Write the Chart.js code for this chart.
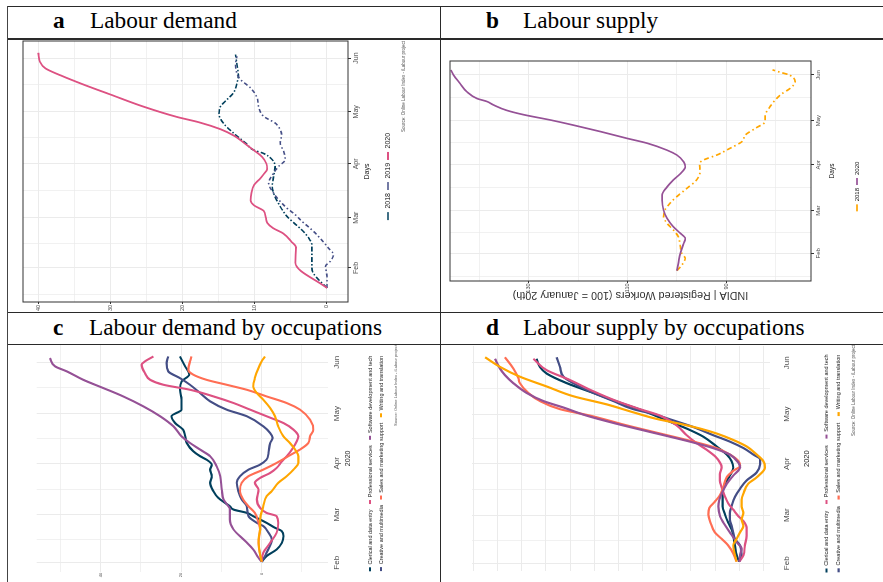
<!DOCTYPE html>
<html lang="en">
<head>
<meta charset="utf-8">
<title>Online labour demand and supply, 2020</title>
<script src="https://cdn.jsdelivr.net/npm/chart.js@4.4.1/dist/chart.umd.min.js"></script>
<style>
  html, body { margin: 0; padding: 0; background: #fff; }
  body { position: relative; width: 883px; height: 582px; overflow: hidden; }
  .rule { position: absolute; background: #2a2a2a; z-index: 3; }
  .head { position: absolute; z-index: 3; font-family: "Liberation Serif", "Times New Roman", serif;
          font-size: 23.3px; line-height: 23.3px; color: #000; white-space: nowrap; }
  .head.tag { font-weight: bold; }
  .plot { position: absolute; transform-origin: 0 0; transform: rotate(-90deg); }
  .plot canvas { display: block; }
</style>
</head>
<body>
<!-- table rules -->
<div class="rule" style="left:7px;top:6px;width:876px;height:1px"></div>
<div class="rule" style="left:7px;top:38px;width:876px;height:1.5px"></div>
<div class="rule" style="left:7px;top:312px;width:876px;height:1px"></div>
<div class="rule" style="left:7px;top:344px;width:876px;height:1px"></div>
<div class="rule" style="left:6.5px;top:6px;width:1.6px;height:576px;background:#444"></div>
<div class="rule" style="left:439.5px;top:6px;width:1.3px;height:576px"></div>

<!-- panel headings -->
<div class="head tag" style="left:53px;top:8.8px">a</div>
<div class="head" style="left:90px;top:8.8px">Labour demand</div>
<div class="head tag" style="left:486px;top:8.8px">b</div>
<div class="head" style="left:523px;top:8.8px">Labour supply</div>
<div class="head tag" style="left:53px;top:315.5px">c</div>
<div class="head" style="left:89px;top:315.5px">Labour demand by occupations</div>
<div class="head tag" style="left:486px;top:315.5px">d</div>
<div class="head" style="left:523px;top:315.5px">Labour supply by occupations</div>

<!-- each plot is laid out with dates along x, then turned a quarter turn -->
<div class="plot" style="left:10px;top:312px;width:272px;height:420px"><canvas id="demand"></canvas></div>
<div class="plot" style="left:443px;top:312px;width:272px;height:437px"><canvas id="supply"></canvas></div>
<div class="plot" style="left:10px;top:582px;width:237px;height:420px"><canvas id="demandOcc"></canvas></div>
<div class="plot" style="left:443px;top:582px;width:237px;height:437px"><canvas id="supplyOcc"></canvas></div>

<script>
// ---- calendar (day of year, 2020) ----
const MONTH_TICKS = [32, 61, 92, 122, 153];
const MONTH_NAMES = ['Feb', 'Mar', 'Apr', 'May', 'Jun'];
const MID_MONTH_TICKS = [16.5, 46, 76.5, 107, 137.5];

// ---- a: labour demand ----
const demandDays2018 = [20.5, 29, 33, 40.6, 45.4, 49, 54, 58, 62, 67.5, 75, 79, 85, 90.6, 94.4, 98, 100, 104, 109.8, 115.5, 121, 125, 129, 132.8, 138.6, 143, 149, 155];
const demand2018 = [0, 1.9, 2.1, 2.1, 2.1, 2.5, 3.5, 4.6, 5.6, 6.5, 7.4, 7.6, 7.4, 7.2, 7.6, 8.8, 10.2, 11.3, 13, 14.4, 15, 14.8, 13.9, 13, 12.5, 12.3, 12.5, 12.7];
const demandDays2019 = [20.5, 27, 33, 36, 39.7, 43.5, 48, 54, 59, 62.7, 66.6, 70.4, 75, 81, 86.7, 90.6, 94.4, 99, 104, 108.8, 111.7, 115.5, 119.4, 125, 130, 135.7, 140.5, 144, 149, 154];
const demand2019 = [0, 0, 0.2, -0.5, -0.9, -0.2, 0.7, 2.1, 3.5, 4.4, 5.6, 6.5, 7.4, 8.1, 7.4, 6.7, 5.8, 6, 6.5, 6.3, 6.5, 7.2, 8.8, 9.5, 9.7, 10.6, 12, 12.5, 12.7, 12.5];
const demandDays2020 = [20.5, 35, 44, 47, 52, 55, 58, 61, 65, 68, 71, 75, 80, 83, 86, 89, 92, 96, 100, 104, 108, 112, 116, 119, 125, 132, 138, 143, 147, 151, 156];
const demand2020 = [0, 4.4, 4.3, 4.9, 6.1, 7.5, 8.3, 8.5, 8.8, 10.1, 10.6, 10.5, 10.1, 9.4, 8.8, 8.3, 8.4, 9.0, 10.2, 11.5, 12.8, 14.8, 17.8, 20.8, 25.5, 30.1, 34, 37, 39.1, 39.9, 40.1];
const demandTicks = [0, 5, 10, 15, 20, 25, 30, 35, 40];
const demandTickLabels = { 0: '0', 10: '10', 20: '20', 30: '30', 40: '40' };

// ---- b: labour supply (100 = January 20th) ----
const supplyDays2018 = [20.2, 24, 28.6, 32, 36.5, 43.3, 47.8, 52.4, 56.9, 61.4, 65.9, 70.5, 76, 81.8, 87.4, 93, 95.3, 98.7, 103.3, 107.8, 112.3, 116.8, 121.4, 124.8, 131.5, 139.5, 144, 148.5, 153, 155, 156.5];
const supply2018 = [100, 99, 98.3, 99, 99.3, 99.7, 100.7, 102, 102.7, 102.4, 101.4, 100, 98, 96, 95.3, 95.4, 94.6, 91.9, 89.2, 86.8, 86.1, 84.1, 82.1, 82.1, 81.1, 79, 77, 76, 77.2, 79.2, 80.6];
const supplyDays2020 = [20.2, 25.2, 32, 38.8, 42, 45.6, 50, 55.8, 61.4, 68, 71.6, 77, 81.8, 86, 90.8, 94, 98.7, 102, 106.7, 110, 114.6, 119, 122.5, 126, 129, 132.7, 135, 137, 141.7, 147.4, 153, 156.4];
const supply2020 = [100, 99.7, 99.3, 98.6, 98.3, 99.3, 100.7, 102, 102.7, 103, 103, 102, 100.7, 99.3, 98.3, 98.6, 100, 102, 106, 110.1, 115.5, 121, 125.7, 131, 134.5, 137.2, 138.5, 140.5, 142.6, 144, 145.3, 145.8];
const supplyTicks = [80, 90, 100, 110, 120, 130, 140];
const supplyTickLabels = { 90: '90', 110: '110', 130: '130' };

// ---- occupations ----
const OCCUPATIONS = ['Clerical and data entry', 'Creative and multimedia', 'Professional services',
                     'Sales and marketing support', 'Software development and tech', 'Writing and translation'];
const OCC_COLORS = ['#003f5c', '#444e86', '#dd5182', '#ff6e54', '#955196', '#ffa600'];
const OCC_LEGEND_RANK = [0, 3, 1, 4, 2, 5];

// c: labour demand by occupation
const demandOccDays = [
  [32.6, 36, 40, 44, 48.1, 51.1, 53.1, 56.1, 60.1, 62.1, 64.1, 66.1, 68.1, 71.2, 75.2, 80.2, 84.2, 88.2, 91.2, 94.2, 96.3, 99.3, 104.3, 108.3, 112.3, 116.3, 120.4, 124.4, 130.4, 136.4, 141.4, 145.5, 150.5, 156.5],
  [32.6, 38, 46.1, 50.1, 54.1, 56.1, 60.1, 66.1, 70.2, 75.2, 80.2, 84.2, 88.2, 91.2, 94.2, 98.3, 104.3, 107.3, 110.3, 114.3, 120.4, 124.4, 129.4, 134.4, 139.4, 143.4, 147.5, 152.5, 156.5],
  [32.6, 38, 44, 50.1, 56.1, 60.1, 62.1, 65.1, 70.2, 76.2, 80.2, 83.2, 86.2, 89.2, 93.2, 96.3, 100.3, 105.3, 108.3, 112.3, 116.3, 120.4, 124.4, 128.4, 132.4, 136.4, 139.4, 142.4, 146.5, 151.5, 153.5, 156.5],
  [32.6, 37, 44, 52.1, 56.1, 62.1, 66.1, 70.2, 75.2, 80.2, 84.2, 88.2, 92.2, 96.3, 100.3, 104.3, 108.3, 112.3, 118.3, 124.4, 128.4, 132.4, 136.4, 139.4, 142.4, 145.5, 148.5, 153.5, 156.5],
  [32.6, 35, 40, 45.1, 52.1, 58.1, 64.1, 70.2, 76.2, 84.2, 90.2, 96.3, 100.3, 104.3, 108.3, 114.3, 120.4, 126.4, 132.4, 137.4, 142.4, 147.5, 150.5, 155.5],
  [32.6, 40, 46.1, 52.1, 58.1, 66.1, 72.2, 75.2, 80.2, 84.2, 88.2, 92.2, 96.3, 100.3, 104.3, 108.3, 114.3, 120.4, 125.4, 130.4, 134.4, 138.4, 143.4, 149.5, 153.5, 156.5]
];
const demandOccValues = [
  [0, -1.2, -3.7, -5.0, -5.4, -5.0, -3.3, -1.2, 2.1, 3.7, 7.0, 7.9, 9.1, 10.8, 12.0, 12.8, 12.4, 12.8, 12.4, 13.7, 15.3, 17.0, 18.6, 19.0, 19.5, 21.5, 22.4, 19.9, 19.9, 20.3, 19.9, 18.0, 19.0, 20.3],
  [0, -1.2, -2.5, -1.7, -0.4, 1.2, 3.3, 3.7, 5.0, 5.8, 6.2, 5.4, 3.3, 0.4, -1.2, -1.7, -2.1, -2.7, -2.1, -0.4, 3.7, 8.7, 12.8, 15.3, 17.8, 20.3, 23.2, 23.6, 23.2],
  [0, -0.4, -2.1, -3.7, -4.1, -3.7, -1.2, 0.4, 1.2, 0.8, 1.7, 0.4, -2.1, -3.7, -5.0, -6.2, -7.5, -8.7, -9.1, -7.9, -5.4, -1.2, 2.9, 7.0, 12.0, 17.8, 24.4, 27.7, 29.0, 29.8, 29.0, 26.9],
  [0, 0.4, 0.8, 0.4, 0.8, 1.7, 3.3, 4.6, 5.4, 5.0, 3.3, -0.4, -3.7, -6.6, -9.5, -11.6, -12.0, -12.8, -12.0, -9.5, -6.2, -1.2, 3.7, 8.7, 13.7, 17.0, 18.2, 17.8, 17.4],
  [0, 0.8, 2.1, 4.1, 7.0, 7.9, 7.9, 9.5, 9.9, 10.3, 11.2, 12.8, 15.3, 17.8, 19.9, 21.9, 25.2, 29.4, 34.4, 39.3, 44.3, 48.4, 51.3, 52.6],
  [0, 0.6, 0.8, 0.4, 0.4, -0.4, -1.2, -2.5, -4.1, -6.2, -7.9, -9.1, -9.1, -8.3, -7.0, -5.4, -4.1, -3.3, -2.1, -0.4, 1.2, 2.1, 1.7, 0.8, 0, -0.8]
];
const demandOccTicks = [-10, 0, 10, 20, 30, 40, 50];
const demandOccTickLabels = { 0: '0', 20: '20', 40: '40' };

// d: labour supply by occupation
const supplyOccDays = [
  [33, 36.9, 42.8, 48.6, 52.6, 56.5, 61.4, 66.3, 70.2, 74.1, 80, 84.9, 89.8, 93.7, 97.6, 102.5, 108.4, 113.3, 118.2, 124, 128.9, 134.8, 140.7, 146.5, 150.5, 155.4],
  [33, 36.9, 42.8, 46.7, 50.6, 54.5, 58.4, 62.4, 66.3, 72.1, 77, 81.9, 86.8, 91.7, 94.7, 97.6, 101.5, 105.4, 109.3, 114.2, 118.2, 122.1, 125, 129.9, 134.8, 140.7, 144.6, 150.5, 156.3],
  [33, 36.9, 42.8, 48.6, 53.5, 57.5, 60.4, 64.3, 68.2, 72.1, 78, 81.9, 85.8, 89.8, 92.7, 96.6, 100.5, 104.5, 109.3, 115.2, 121.1, 125, 129.9, 135.8, 142.6, 148.5, 155.4],
  [33, 37.9, 42.8, 46.7, 50.6, 56.5, 61.4, 65.3, 69.2, 73.1, 78, 83.9, 87.8, 90.7, 93.7, 97.6, 101.5, 105.4, 110.3, 115.2, 121.1, 125, 129.9, 134.8, 140.7, 143.6, 149.5, 156.3],
  [33, 36.9, 40.8, 44.7, 50.6, 56.5, 60.4, 66.3, 70.2, 74.1, 80, 84.9, 89.8, 92.7, 97.6, 101.5, 105.4, 110.3, 116.2, 121.1, 126, 129.9, 134.8, 140.7, 145.6, 149.5, 155.4],
  [33, 36.9, 42.8, 46.7, 50.6, 54.5, 58.4, 62.4, 66.3, 70.2, 74.1, 80, 83.9, 89.8, 93.7, 97.6, 102.5, 106.4, 110.3, 113.3, 116.2, 119.1, 123.1, 127.9, 132.8, 138.7, 144.6, 150.5, 156.3]
];
const supplyOccValues = [
  [0, 1.1, 1.8, 2.5, 3.2, 4.6, 5.9, 6.9, 6.9, 6.9, 5.9, 3.9, 2.5, 3.2, 5.2, 9.4, 14.9, 21.8, 30.1, 39.7, 49.4, 60.4, 71.4, 79.7, 82.5, 83.9],
  [0, -1.0, -0.3, 1.8, 2.5, 3.2, 3.9, 3.9, 3.2, 1.8, -0.3, -3.0, -7.2, -8.6, -8.6, -5.8, -1.7, 3.9, 10.8, 19.0, 27.3, 35.6, 43.9, 52.1, 60.4, 68.7, 72.8, 74.2, 75.6],
  [0, -1.7, -2.3, -3.0, -3.0, -1.7, 0.4, 2.5, 4.6, 5.9, 7.3, 8.0, 8.0, 7.3, 8.0, 10.1, 13.5, 17.7, 21.8, 25.9, 32.8, 41.1, 50.8, 60.4, 70.1, 79.7, 85.2],
  [1.1, 2.5, 4.6, 7.3, 10.1, 11.9, 12.8, 12.4, 10.1, 8.0, 6.6, 5.2, 2.5, -0.3, 0.4, 3.9, 9.4, 19.0, 32.8, 46.6, 61.8, 74.2, 82.5, 87.3, 90.8, 91.4, 93.5, 97.0],
  [0, -0.3, -1.0, 1.1, 3.9, 6.6, 8.0, 8.7, 8.3, 7.3, 5.2, 2.5, -0.3, 0.4, 3.9, 10.8, 20.4, 34.2, 50.8, 63.2, 72.8, 81.1, 88.0, 93.5, 97.0, 99.0, 101.1],
  [1.1, 1.8, 2.5, 1.1, -0.3, -1.7, -1.0, -1.7, -1.0, -1.0, -1.7, -3.7, -7.2, -10.6, -9.9, -7.2, -3.0, 2.5, 9.4, 16.3, 24.6, 34.2, 43.9, 54.9, 68.7, 79.7, 90.8, 99.0, 105.2]
];
const supplyOccTicks = [-10, 0, 10, 20, 30, 40, 50, 60, 70, 80, 90, 100, 110];

const CAPTION = 'Source: Online Labour Index - iLabour project';

// ---- drawing ----
Chart.defaults.font.family = "'Liberation Sans', Arial, sans-serif";
const TEXT_GREY = '#4d4d4d';
const GRID = '#ebebeb';
const CLEAR = 'rgba(0,0,0,0)';
const isMonth = v => MONTH_TICKS.includes(v);

function line(label, days, values, color, width, dash, order) {
  return {
    label, order,
    data: days.map((d, i) => ({ x: d, y: values[i] })),
    borderColor: color, backgroundColor: color, borderWidth: width, borderDash: dash,
    pointRadius: 0, pointHoverRadius: 0, fill: false, cubicInterpolationMode: 'monotone'
  };
}

// panel border in the style of a bordered ggplot panel
const panelFrame = {
  id: 'panelFrame',
  afterDatasetsDraw(chart, args, opts) {
    if (!opts.show) return;
    const a = chart.chartArea, c = chart.ctx;
    c.save();
    c.strokeStyle = '#333';
    c.lineWidth = 1;
    c.strokeRect(a.left, a.top, a.right - a.left, a.bottom - a.top);
    c.restore();
  }
};

function makeChart(id, s) {
  const canvas = document.getElementById(id);
  canvas.width = s.W;
  canvas.height = s.H;
  const dateTicks = [...MONTH_TICKS, ...MID_MONTH_TICKS]
    .filter(v => v >= s.dateRange[0] && v <= s.dateRange[1]).sort((a, b) => a - b);
  const isMajorValue = v => s.valueMajors.includes(v);
  return new Chart(canvas, {
    type: 'line',
    data: { datasets: s.datasets },
    options: {
      responsive: false, animation: false, events: [],
      layout: { padding: s.padding },
      scales: {
        x: {
          type: 'linear', position: 'bottom', min: s.dateRange[0], max: s.dateRange[1],
          afterBuildTicks: sc => { sc.ticks = dateTicks.map(v => ({ value: v })); },
          afterFit: sc => { sc.height = s.xHeight; },
          ticks: {
            autoSkip: false, maxRotation: 0, minRotation: 0, padding: s.datePad,
            color: TEXT_GREY, font: { size: s.dateFont },
            callback: v => isMonth(v) ? MONTH_NAMES[MONTH_TICKS.indexOf(v)] : ''
          },
          grid: {
            color: GRID, lineWidth: c => isMonth(c.tick && c.tick.value) ? 1 : 0.7,
            drawTicks: s.tickLen > 0, tickLength: s.tickLen, tickWidth: 1,
            tickColor: c => isMonth(c.tick && c.tick.value) ? '#333' : CLEAR
          },
          border: { display: false },
          title: {
            display: true, text: s.xTitle, color: '#1a1a1a', font: { size: s.xTitleFont },
            padding: { top: 0, bottom: s.xTitlePad }
          }
        },
        y: {
          type: 'linear', position: 'left', min: s.valueRange[0], max: s.valueRange[1],
          afterBuildTicks: sc => { sc.ticks = s.valueTicks.map(v => ({ value: v })); },
          afterFit: sc => { sc.width = s.yWidth; },
          ticks: {
            display: s.valueFont > 0, padding: s.valuePad, color: TEXT_GREY,
            font: { size: Math.max(s.valueFont, 1) },
            callback: v => (s.valueLabels[v] !== undefined ? s.valueLabels[v] : '')
          },
          grid: {
            color: GRID, lineWidth: c => isMajorValue(c.tick && c.tick.value) ? 1 : 0.7,
            drawTicks: s.tickLen > 0, tickLength: 2, tickWidth: 1,
            tickColor: c => (s.valueLabels[c.tick && c.tick.value] !== undefined) ? '#333' : CLEAR
          },
          border: { display: false },
          title: s.yTitle ? {
            display: true, text: s.yTitle, color: '#333', font: { size: s.yTitleFont },
            padding: { top: s.yTitlePad, bottom: 0 }
          } : { display: false }
        }
      },
      plugins: {
        panelFrame: { show: s.frame },
        tooltip: { enabled: false },
        title: { display: false },
        legend: {
          display: true, position: 'bottom', align: 'center',
          labels: {
            color: '#1a1a1a', font: { size: s.legendFont }, padding: s.legendPad,
            usePointStyle: true, pointStyle: 'line', pointStyleWidth: s.keyWidth, boxHeight: s.legendFont,
            sort: (a, b) => s.legendRank[a.datasetIndex] - s.legendRank[b.datasetIndex]
          }
        },
        subtitle: s.caption ? {
          display: true, position: 'bottom', align: 'end', text: s.caption, color: '#555',
          font: { size: s.captionFont }, padding: { top: 0, bottom: 0 }
        } : { display: false }
      }
    },
    plugins: [panelFrame]
  });
}

// a
makeChart('demand', {
  W: 272, H: 420, padding: { left: 0, right: 1, top: 13, bottom: 23.1 },
  dateRange: [12.4, 162.8], valueRange: [-2.92, 42.22],
  valueTicks: demandTicks, valueLabels: demandTickLabels, valueMajors: [0, 10, 20, 30, 40],
  yWidth: 10, valueFont: 5.5, valuePad: 1,
  xHeight: 33.5, dateFont: 7, datePad: 1.3, tickLen: 3,
  xTitle: 'Days', xTitleFont: 7, xTitlePad: 10.3,
  legendFont: 7, legendPad: 3, keyWidth: 8, legendRank: [0, 1, 2],
  caption: CAPTION, captionFont: 4.5, frame: true,
  datasets: [
    line('2018', demandDays2018, demand2018, '#003f5c', 1.6, [5, 2, 1.5, 2], 3),
    line('2019', demandDays2019, demand2019, '#444e86', 1.6, [4, 2.5, 1.5, 2.5], 2),
    line('2020', demandDays2020, demand2020, '#dd5182', 1.8, [], 1)
  ]
});

// b
makeChart('supply', {
  W: 272, H: 437, padding: { left: 0, right: 21, top: 7, bottom: 10 },
  dateRange: [13.2, 162.5], valueRange: [72.8, 146],
  valueTicks: supplyTicks, valueLabels: supplyTickLabels, valueMajors: [90, 110, 130],
  yWidth: 31, valueFont: 5.5, valuePad: 0.5,
  yTitle: 'INDIA | Registered Workers (100 = January 20th)', yTitleFont: 10.8, yTitlePad: 10.5,
  xHeight: 40, dateFont: 6, datePad: 0.9, tickLen: 3,
  xTitle: 'Days', xTitleFont: 6.5, xTitlePad: 15.1,
  legendFont: 6, legendPad: 3, keyWidth: 7, legendRank: [0, 1],
  caption: null, frame: true,
  datasets: [
    line('2018', supplyDays2018, supply2018, '#ffa600', 1.7, [5, 3, 1.5, 3], 2),
    line('2020', supplyDays2020, supply2020, '#955196', 1.7, [], 1)
  ]
});

// c
makeChart('demandOcc', {
  W: 237, H: 420, padding: { left: 0, right: 0, top: 26.7, bottom: 31.45 },
  dateRange: [26.6, 163.4], valueRange: [-16.46, 55.86],
  valueTicks: demandOccTicks, valueLabels: demandOccTickLabels, valueMajors: [0, 20, 40],
  yWidth: 10.3, valueFont: 4, valuePad: 1,
  xHeight: 33.75, dateFont: 8, datePad: 4.2, tickLen: 0,
  xTitle: '2020', xTitleFont: 7, xTitlePad: 9.55,
  legendFont: 5.5, legendPad: 5.5, keyWidth: 4, legendRank: OCC_LEGEND_RANK,
  caption: CAPTION, captionFont: 4, frame: false,
  datasets: OCCUPATIONS.map((name, i) =>
    line(name, demandOccDays[i], demandOccValues[i], OCC_COLORS[i], 2.1, [], 6 - i))
});

// d
makeChart('supplyOcc', {
  W: 237, H: 437, padding: { left: 0, right: 0, top: 29, bottom: 23.15 },
  dateRange: [27.07, 163.2], valueRange: [-12.7, 110.6],
  valueTicks: supplyOccTicks, valueLabels: {}, valueMajors: supplyOccTicks,
  yWidth: 5.3, valueFont: 0, valuePad: 0,
  xHeight: 47.05, dateFont: 8, datePad: 11.7, tickLen: 0,
  xTitle: '2020', xTitleFont: 7.5, xTitlePad: 6.05,
  legendFont: 5.5, legendPad: 6.7, keyWidth: 4, legendRank: OCC_LEGEND_RANK,
  caption: CAPTION, captionFont: 4.5, frame: false,
  datasets: OCCUPATIONS.map((name, i) =>
    line(name, supplyOccDays[i], supplyOccValues[i], OCC_COLORS[i], 2.2, [], 6 - i))
});
</script>
</body>
</html>
